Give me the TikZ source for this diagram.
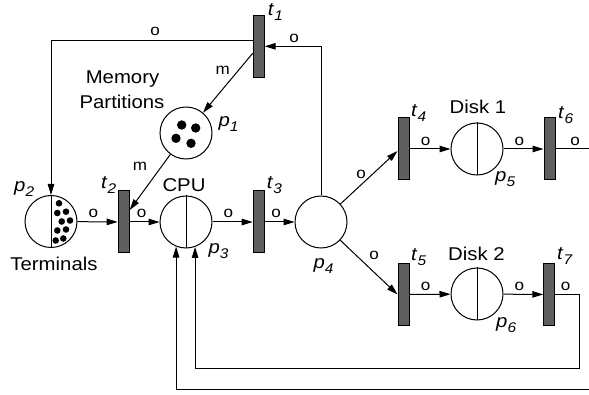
\documentclass[tikz,border=0pt]{standalone}
\usepackage{fontspec}
\setmainfont{Liberation Sans}[FakeStretch=1.1]
\usetikzlibrary{arrows.meta}
\definecolor{tgray}{HTML}{5F5F5F}
\newcommand\PNl[2]{\textit{#1}\raisebox{-5pt}{\fontsize{14}{14}\selectfont\textit{#2}}}
\begin{document}
\begin{tikzpicture}[x=1pt,y=-1pt,
 place/.style={circle,draw,line width=1pt,minimum size=52pt,inner sep=0pt},
 trans/.style={rectangle,draw,line width=1pt,fill=tgray,minimum width=11pt,minimum height=62pt,inner sep=0pt},
 arc/.style={line width=1pt,-{Triangle[length=11pt,width=6.5pt]}},
 plain/.style={line width=1pt},
 lab/.style={font=\fontsize{15.5}{15}\selectfont,inner sep=0pt},
 nm/.style={font=\fontsize{18.5}{18}\selectfont,inner sep=0pt,anchor=base},
 idx/.style={font=\fontsize{18.5}{18}\selectfont,inner sep=0pt,anchor=base west}]
\useasboundingbox (0,0) rectangle (589,395);
% places
\node[place] (p1) at (186,133) {};
\node[place] (p2) at (51,221.5) {};
\node[place] (p3) at (186,222) {};
\node[place] (p4) at (321,222) {};
\node[place] (p5) at (477,149) {};
\node[place] (p6) at (477,294) {};
\foreach \p in {p2,p3,p5,p6} \draw[plain] (\p.north) -- (\p.south);
% tokens
\foreach \x/\y in {181.7/125,195.7/128,176/138.3,191/143.3} \fill (\x,\y) circle (4.7);
\foreach \x/\y in {59/203.3,57.3/213,66/211.7,61.7/221.5,70/220.5,57.3/230.5,66/229.5,63.3/238.5,55.7/240.5} \fill (\x,\y) circle (3.3);
% transitions
\node[trans] (t1) at (258.7,46.3) {};
\node[trans] (t2) at (123.7,222) {};
\node[trans] (t3) at (258.7,222) {};
\node[trans] (t4) at (403.5,149) {};
\node[trans] (t5) at (403.5,294.5) {};
\node[trans] (t6) at (549.5,149) {};
\node[trans] (t7) at (549.3,294.5) {};
% free ends
\coordinate (e6) at (589,149);
\coordinate (c7) at (579,368.3);
\coordinate (e8) at (589,389);
% arcs
\draw[arc] (p4.north) |- (t1.east);
\draw[arc] ([yshift=5.6pt]t1.west) -| (p2.north);
\draw[arc] ([yshift=-7pt]t1.west) -- (p1);
\draw[arc] (p1) -- ([yshift=12pt]t2.east);
\draw[arc] (p2) -- (t2);
\draw[arc] (t2) -- (p3);
\draw[arc] (p3) -- (t3);
\draw[arc] (t3) -- (p4);
\draw[arc] (p4) -- ([yshift=-2pt]t4.west);
\draw[arc] (p4) -- (t5.west);
\draw[arc] (t4) -- (p5);
\draw[arc] (p5) -- (t6);
\draw[arc] (t5) -- (p6);
\draw[arc] (p6) -- (t7);
\draw[plain] (t6.east) -- (e6);
\draw[arc] (t7.east) -| (c7) -| (p3.290);
\draw[arc] (e8) -| (p3.248);
% arc labels
\node[lab] (o1) at (155,31) {o};
\node[lab] (o2) at (294,38.3) {o};
\node[lab] (m1) at (222.7,70) {m};
\node[lab] (m2) at (140,166.7) {m};
\node[lab] (o3) at (93.3,213.3) {o};
\node[lab] (o4) at (141.7,213.3) {o};
\node[lab] (o5) at (228.3,213.3) {o};
\node[lab] (o6) at (276,213.3) {o};
\node[lab] (o7) at (361,174.3) {o};
\node[lab] (o8) at (374,255.7) {o};
\node[lab] (o9) at (425.7,141) {o};
\node[lab] (o10) at (519.3,141) {o};
\node[lab] (o11) at (575,141) {o};
\node[lab] (o12) at (425.7,286.7) {o};
\node[lab] (o13) at (519.3,286.7) {o};
\node[lab] (o14) at (565.7,286.7) {o};
% names
\node[nm] (nmem) at (122.5,83.3) {Memory};
\node[nm] (npart) at (122,108.3) {Partitions};
\node[nm] (ncpu) at (184,191.7) {CPU};
\node[nm] (nterm) at (54,270.7) {Terminals};
\node[nm] (nd1) at (478,113.3) {Disk 1};
\node[nm] (nd2) at (476.5,261) {Disk 2};
% indices
\node[idx] (lt1) at (267.7,16) {\PNl{t}{1}};
\node[idx] (lp1) at (218.3,127) {\PNl{p}{1}};
\node[idx] (lp2) at (14,192) {\PNl{p}{2}};
\node[idx] (lt2) at (101,188.3) {\PNl{t}{2}};
\node[idx] (lt3) at (266.7,188.3) {\PNl{t}{3}};
\node[idx] (lp3) at (208.3,254) {\PNl{p}{3}};
\node[idx] (lp4) at (313.3,269) {\PNl{p}{4}};
\node[idx] (lt4) at (411,116.5) {\PNl{t}{4}};
\node[idx] (lt5) at (411,261) {\PNl{t}{5}};
\node[idx] (lp5) at (495,181.3) {\PNl{p}{5}};
\node[idx] (lt6) at (558,119) {\PNl{t}{6}};
\node[idx] (lt7) at (557,260) {\PNl{t}{7}};
\node[idx] (lp6) at (496,327) {\PNl{p}{6}};
\end{tikzpicture}
\end{document}
